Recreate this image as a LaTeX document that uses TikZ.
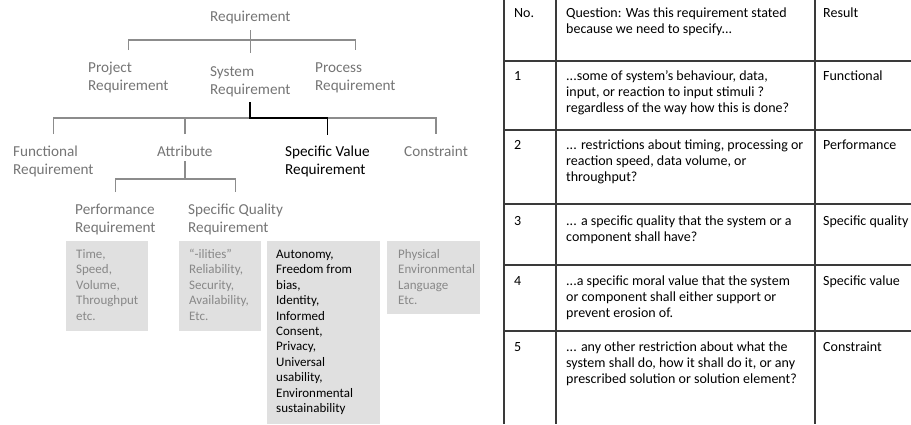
\documentclass[tikz,border=0pt]{standalone}
\usepackage{fontspec}
\setmainfont{Carlito}
\usepackage{tikz}
\usepackage{xcolor}

\definecolor{treegray}{HTML}{757575}
\definecolor{linegray}{HTML}{8C8C8C}
\definecolor{boxgray}{HTML}{E0E0E0}
\definecolor{boxtext}{HTML}{888888}
\definecolor{rulegray}{HTML}{3A3A3A}

\begin{document}
\begin{tikzpicture}[x=1pt,y=-1pt,line cap=butt,
  tlab/.style={inner sep=0pt,align=left,anchor=base west,text=treegray,font=\fontsize{15.2}{18}\selectfont},
  tline/.style={draw=linegray,line width=1.5pt},
  vline/.style={draw=black,line width=1.8pt},
  exbox/.style={fill=boxgray},
  extext/.style={inner sep=0pt,align=left,anchor=base west,text=boxtext,font=\fontsize{13}{15.4}\selectfont},
  rule/.style={draw=rulegray,line width=1.8pt},
  cell/.style={inner sep=0pt,align=left,anchor=base west,text=black,font=\fontsize{14}{16}\selectfont}]
\useasboundingbox (0,0) rectangle (911,424);
% tree of requirement types (base = last line)
\node[tlab] (req) at (210,21) {Requirement};
\node[tlab] (proj) at (88,90.5) {Project\\Requirement};
\node[tlab] (sys) at (210,94.5) {System\\Requirement};
\node[tlab] (proc) at (315,90.5) {Process\\Requirement};
\node[tlab] (fun) at (13,174) {Functional\\Requirement};
\node[tlab] (att) at (157,156) {Attribute};
\node[tlab,text=black] (sv) at (285,174) {Specific Value\\Requirement};
\node[tlab] (con) at (404,156) {Constraint};
\node[tlab] (perf) at (75,232) {Performance\\Requirement};
\node[tlab] (squal) at (188,232) {Specific Quality\\Requirement};
\path (req.south |- 0,40) coordinate (bar1);
\path (sys.south |- 0,118) coordinate (bar2);
\path (att.south |- 0,179) coordinate (bar3);
\draw[tline] (req.south |- 0,30) -- (sys.north |- 0,53);
\draw[tline] (proj.north |- 0,50) |- (bar1) -| (proc.north |- 0,50);
\draw[tline] (fun.north |- 0,134) |- (bar2) -| (con.north |- 0,134);
\draw[tline] (att.north |- 0,134) -- (att.north |- bar2);
\draw[vline] (sys.south |- 0,102) -- (bar2) -| (sv.north |- 0,135);
\draw[tline] (att.south |- 0,161) -- (bar3);
\draw[tline] (perf.north |- 0,192) |- (bar3) -| (squal.north |- 0,192);
% example boxes
\fill[exbox] (66,241) rectangle (148,331);
\fill[exbox] (179,241) rectangle (261,331);
\fill[exbox] (267,241) rectangle (380,424);
\fill[exbox] (387,241) rectangle (480,314);
\node[extext] (ex1) at (76,320.1) {Time,\\Speed,\\Volume,\\Throughput\\etc.};
\node[extext] (ex2) at (189,320.1) {“-ilities”\\Reliability,\\Security,\\Availability,\\Etc.};
\node[extext,text=black] (ex3) at (276,412.5) {Autonomy,\\Freedom from\\bias,\\Identity,\\Informed\\Consent,\\Privacy,\\Universal\\usability,\\Environmental\\sustainability};
\node[extext] (ex4) at (398,304.7) {Physical\\Environmental\\Language\\Etc.};
% question table
\draw[rule] (504,0) -- (504,424);
\draw[rule] (556,0) -- (556,424);
\draw[rule] (815,0) -- (815,424);
\foreach \y in {61,130,204,265,331}
  \draw[rule] (503,\y) -- (911,\y);
\node[cell] (n0) at (514,17.3) {No.};
\node[cell] (q0) at (566,33.3) {Question: Was this requirement stated\\because we need to specify...};
\node[cell] (r0) at (823,17.3) {Result};
\node[cell] (n1) at (514,80.7) {1};
\node[cell] (q1) at (566,112.7) {...some of system's behaviour, data,\\input, or reaction to input stimuli ?\\regardless of the way how this is done?};
\node[cell] (r1) at (823,80.7) {Functional};
\node[cell] (n2) at (514,149) {2};
\node[cell] (q2) at (566,181) {... restrictions about timing, processing or\\reaction speed, data volume, or\\throughput?};
\node[cell] (r2) at (823,149) {Performance};
\node[cell] (n3) at (514,225) {3};
\node[cell] (q3) at (566,241) {... a specific quality that the system or a\\component shall have?};
\node[cell] (r3) at (823,225) {Specific quality};
\node[cell] (n4) at (514,285) {4};
\node[cell] (q4) at (566,317) {...a specific moral value that the system\\or component shall either support or\\prevent erosion of.};
\node[cell] (r4) at (823,285) {Specific value};
\node[cell] (n5) at (514,351) {5};
\node[cell] (q5) at (566,383) {... any other restriction about what the\\system shall do, how it shall do it, or any\\prescribed solution or solution element?};
\node[cell] (r5) at (823,351) {Constraint};
\end{tikzpicture}
\end{document}
